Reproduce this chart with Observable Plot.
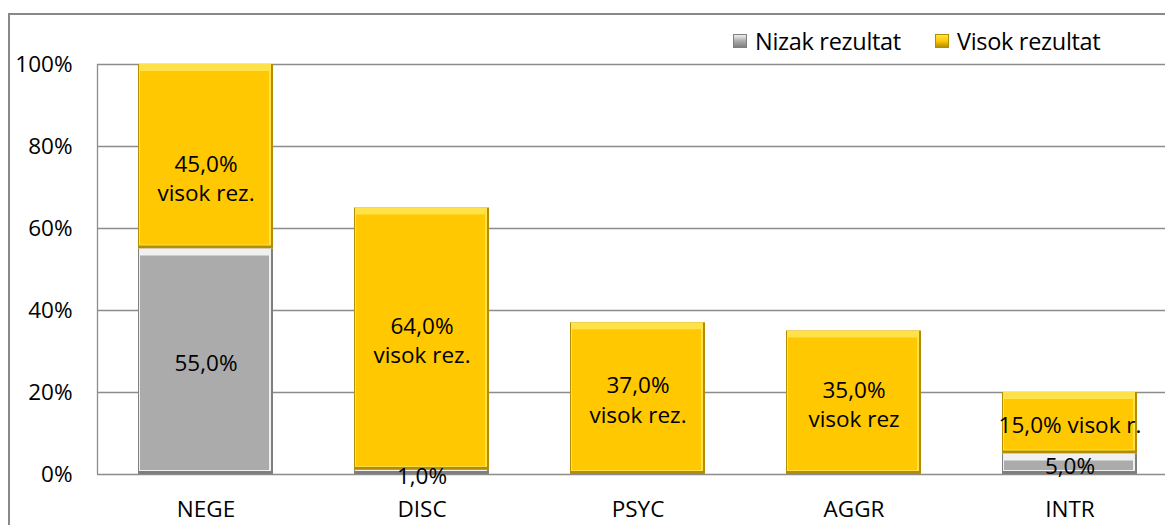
<!DOCTYPE html>
<html><head><meta charset="utf-8">
<script src="https://cdn.jsdelivr.net/npm/d3@7"></script>
<script src="https://cdn.jsdelivr.net/npm/@observablehq/plot@0.6"></script>
<style>
body{margin:0;background:#fff;font-family:"Open Sans",sans-serif;}
#wrap{position:relative;width:1165px;height:525px;overflow:hidden;}
#frame{position:absolute;left:8px;top:13px;width:1200px;height:600px;border-left:2px solid #898989;border-top:2px solid #898989;box-sizing:border-box;pointer-events:none;}
#legend{position:absolute;left:733px;top:25px;font-size:23.5px;color:#000;display:flex;align-items:center;letter-spacing:-0.3px;}
#legend span.it{display:flex;align-items:center;margin-right:34px;}
#legend i{display:inline-block;width:12px;height:12px;margin-right:8px;border:1px solid;}
</style></head>
<body><div id="wrap"><div id="legend"></div><div id="frame"></div></div>
<script>
const categories = ["NEGE","DISC","PSYC","AGGR","INTR"];
const nizak = [55, 1, 0, 0, 5];
const visok = [45, 64, 37, 35, 15];
const nizakLabels = ["55,0%","1,0%","","","5,0%"];
const visokLabels = ["45,0%\nvisok rez.","64,0%\nvisok rez.","37,0%\nvisok rez.","35,0%\nvisok rez","15,0% visok r."];
const seriesNames = ["Nizak rezultat","Visok rezultat"];
const yTicks = [0,20,40,60,80,100];

const style = {
  "Nizak rezultat": {dark:"#7f7f7f", light:"#f0f0f0", main:"#ababab"},
  "Visok rezultat": {dark:"#b58d00", light:"#ffe24a", main:"#ffc800"}
};

const segs = [];
categories.forEach((c,i)=>{
  segs.push({cat:c, series:seriesNames[0], y1:0, y2:nizak[i], v:nizak[i], label:nizakLabels[i]});
  segs.push({cat:c, series:seriesNames[1], y1:nizak[i], y2:nizak[i]+visok[i], v:visok[i], label:visokLabels[i]});
});
const drawn = segs.filter(d=>d.v>0);
const labels = drawn.filter(d=>d.label).map(d=>({...d, ym:(d.y1+d.y2)/2 - (d.cat==="NEGE"&&d.series===seriesNames[1]?5:0) - (d.v<3?0.5:0)}));

const col = k => d => style[d.series][k];
const common = {x:"cat", y1:"y1", y2:"y2"};
const FS = 22.5;

const chart = Plot.plot({
  width:1165, height:525,
  marginLeft:97, marginRight:0, marginTop:64, marginBottom:51,
  style:{fontFamily:"'Open Sans', sans-serif", fontSize:FS+"px", background:"transparent", color:"#000", overflow:"visible"},
  x:{domain:categories, range:[97,1177], paddingInner:0.375, paddingOuter:0.1875, label:null},
  y:{domain:[0,100], label:null},
  marks:[
    Plot.ruleY(yTicks, {stroke:"#8c8c8c", strokeWidth:1.3}),
    Plot.axisY({ticks:yTicks, tickSize:0, tickPadding:25, tickFormat:d=>d+"%", fontSize:FS, fill:"#000"}),
    Plot.axisX({tickSize:0, tickPadding:27, fontSize:FS, fill:"#000"}),
    Plot.barY(drawn, {...common, fill:col("dark")}),
    Plot.barY(drawn, {...common, fill:col("light"), insetBottom:3, insetLeft:1, insetRight:2}),
    Plot.barY(drawn, {...common, fill:col("main"), insetTop:7, insetLeft:2, insetRight:4, insetBottom:4}),
    Plot.text(labels, {x:"cat", y:"ym", text:"label", fontSize:FS, fill:"#000", lineHeight:1.3})
  ]
});
const svg = d3.select(chart);
svg.append("line").attr("x1",97.5).attr("x2",97.5).attr("y1",64).attr("y2",474).attr("stroke","#8c8c8c").attr("stroke-width",1.3);
document.getElementById("wrap").prepend(chart);

const lg = document.getElementById("legend");
seriesNames.forEach(s=>{
  const sp = document.createElement("span"); sp.className="it";
  const i = document.createElement("i");
  i.style.background = `linear-gradient(${style[s].light}, ${style[s].main} 50%, ${style[s].dark})`;
  i.style.borderColor = style[s].dark;
  sp.appendChild(i);
  sp.appendChild(document.createTextNode(s));
  lg.appendChild(sp);
});
</script></body></html>
